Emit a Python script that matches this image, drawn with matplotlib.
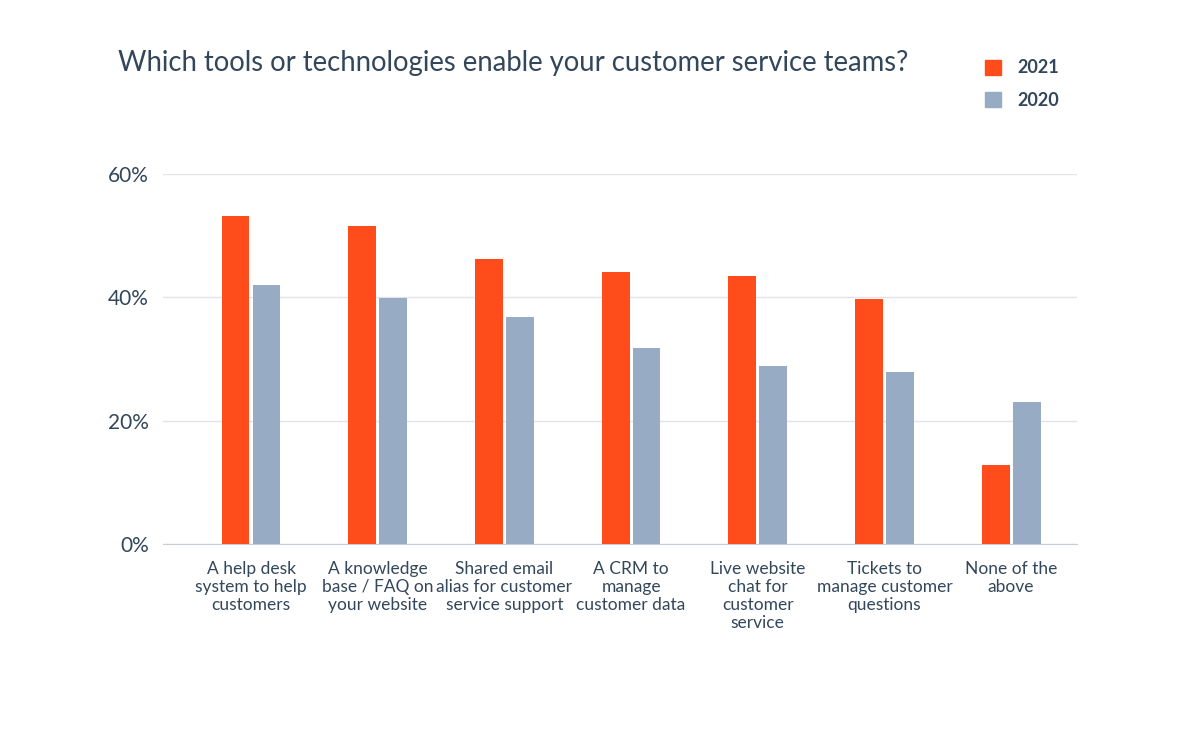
import numpy as np
import matplotlib.pyplot as plt
from matplotlib.patches import Patch

categories = ["A help desk\nsystem to help\ncustomers",
              "A knowledge\nbase / FAQ on\nyour website",
              "Shared email\nalias for customer\nservice support",
              "A CRM to\nmanage\ncustomer data",
              "Live website\nchat for\ncustomer\nservice",
              "Tickets to\nmanage customer\nquestions",
              "None of the\nabove"]
vals_2021 = [53.2, 51.6, 46.2, 44.1, 43.5, 39.8, 12.8]
vals_2020 = [42.0, 39.9, 36.8, 31.8, 28.9, 27.9, 23.0]

text_col = "#33475b"
orange = "#ff4c1a"
blue = "#97acc4"

plt.rcParams['font.family'] = ['Lato', 'DejaVu Sans']

fig = plt.figure(figsize=(12, 7.43), dpi=100)
ax = fig.add_axes([0.1358, 0.2678, 0.7617, 0.498])

x = np.arange(len(categories))
w = 0.22
ax.bar(x - 0.122, vals_2021, width=w, color=orange, zorder=3)
ax.bar(x + 0.122, vals_2020, width=w, color=blue, zorder=3)

ax.set_xlim(-0.695, 6.52)
ax.set_ylim(0, 60)
ax.set_yticks([0, 20, 40, 60])
ax.set_yticklabels(["0%", "20%", "40%", "60%"])
ax.grid(axis='y', color="#e3e3ea", linewidth=1, zorder=0)
for s in ["top", "right", "left"]:
    ax.spines[s].set_visible(False)
ax.spines["bottom"].set_color("#c8ccd8")
ax.tick_params(axis='y', length=0, labelsize=15, labelcolor=text_col, pad=10)
ax.set_xticks(x + 0.0)
ax.set_xticklabels(categories, fontsize=12.5, color=text_col, linespacing=1.15)
ax.tick_params(axis='x', length=0, pad=12)

fig.text(118 / 1200, 1 - 63 / 743, "Which tools or technologies enable your customer service teams?",
         fontsize=19.8, color=text_col, va='center', ha='left')

handles = [Patch(color=orange, label="2021"), Patch(color=blue, label="2020")]
fig.legend(handles=handles, loc='upper left', bbox_to_anchor=(0.807, 0.942),
           frameon=False, labelcolor=text_col, handlelength=0.9,
           handleheight=0.9, labelspacing=0.85, handletextpad=0.9,
           prop={'weight': 'bold', 'size': 13})

plt.savefig("out.png", dpi=100)
